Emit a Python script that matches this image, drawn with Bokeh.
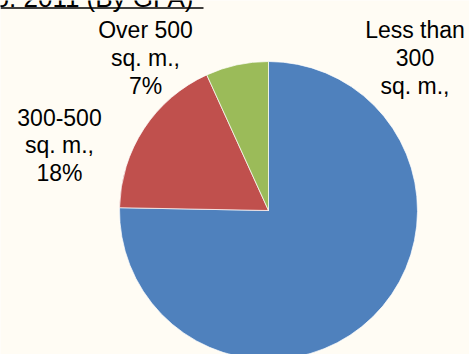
import numpy as np
from bokeh.plotting import figure
from bokeh.models import Range1d
from bokeh.core.properties import value
from bokeh.embed import file_html
from bokeh.resources import INLINE

# ---- data ----
categories = ["Less than 300 sq. m.", "300-500 sq. m.", "Over 500 sq. m."]
shares = [75.3, 17.9, 6.8]
pct_labels = ["75%", "18%", "7%"]
colors = ["#4F81BD", "#C0504D", "#9BBB59"]
label_lines = [
    ["Less than", "300", "sq. m.,"],
    ["300-500", "sq. m.,", "18%"],
    ["Over 500", "sq. m.,", "7%"],
]
title = "No. 2011 (By GFA)"

# ---- layout ----
W, H = 469, 354
BG = "#FFFCF4"
FONT = value("Liberation Sans")
SHIFT = 7.5  # correction for rendered baseline offset

p = figure(width=W, height=H, x_range=Range1d(0, W), y_range=Range1d(0, H),
           output_backend="svg", toolbar_location=None, min_border=0,
           x_axis_type=None, y_axis_type=None,
           background_fill_color=BG, border_fill_color=BG, outline_line_color=None)
p.grid.visible = False

cx, cy, r = 268, H - 210, 149
frac = np.array(shares) / np.sum(shares)
ends = np.pi / 2 - 2 * np.pi * np.cumsum(frac)
starts = np.concatenate([[np.pi / 2], ends[:-1]])
p.wedge(x=cx, y=cy, radius=r, start_angle=starts, end_angle=ends,
        direction="clock", fill_color=colors, line_color="white", line_width=0.7)

# label anchors (centre x, first baseline y in pixels)
anchors = [(414.5, 36.7), (59, 124), (145, 36.7)]
xs, ys, ts = [], [], []
for (ax, ay), lines in zip(anchors, label_lines):
    for i, t in enumerate(lines):
        xs.append(ax)
        ys.append(H - (ay + 28 * i - SHIFT))
        ts.append(t)
p.text(x=xs, y=ys, text=ts, text_align="center", text_baseline="alphabetic",
       text_font=FONT, text_font_size="23px", text_color="black")

# cut-off title with underline
p.text(x=[193], y=[H - (5.3 - SHIFT)], text=[title], text_align="right",
       text_baseline="alphabetic", text_font=FONT, text_font_size="26px",
       text_color="black")
p.segment(x0=[0], y0=[H - 7.5], x1=[203], y1=[H - 7.5],
          line_color="black", line_width=1.3)

open("out.html", "w").write(file_html(p, INLINE))
